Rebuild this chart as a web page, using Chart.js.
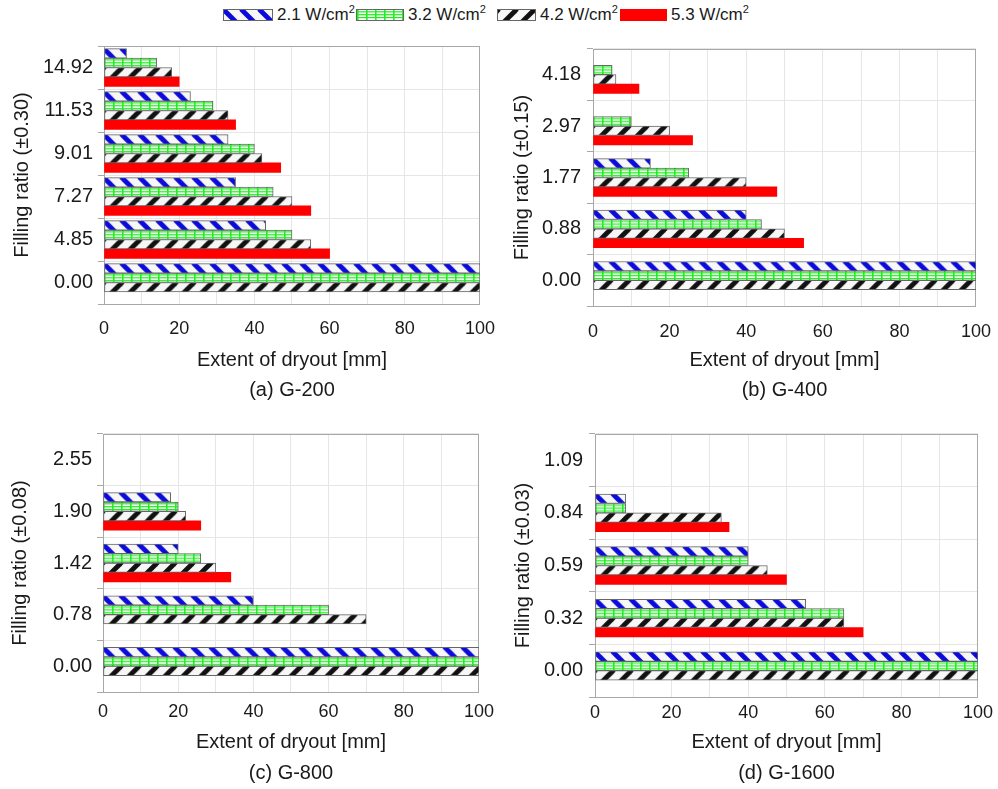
<!DOCTYPE html>
<html>
<head>
<meta charset="utf-8">
<script src="https://cdn.jsdelivr.net/npm/chart.js@4.4.1/dist/chart.umd.min.js"></script>
<style>
body { margin: 0; background: #fff; font-family: 'Liberation Sans', Arial, sans-serif; color: #1a1a1a; }
#wrap { position: relative; width: 998px; height: 789px; overflow: hidden; }
canvas.panel { position: absolute; }
.leg { position: absolute; top: 7px; height: 16px; display: flex; align-items: center; font-size: 17px; white-space: nowrap; }
.leg canvas { border: 1px solid #666; margin-right: 4px; }
.leg sup { font-size: 11px; vertical-align: 7px; line-height: 0; }
</style>
</head>
<body>
<div id="wrap">
  <div class="leg" style="left:223px"><canvas id="sw0" width="48" height="10"></canvas><span>2.1 W/cm<sup>2</sup></span></div>
  <div class="leg" style="left:356px"><canvas id="sw1" width="46" height="10"></canvas><span>3.2 W/cm<sup>2</sup></span></div>
  <div class="leg" style="left:497px"><canvas id="sw2" width="37" height="10"></canvas><span>4.2 W/cm<sup>2</sup></span></div>
  <div class="leg" style="left:620px"><canvas id="sw3" width="45" height="10" style="border-color:#ff0000"></canvas><span>5.3 W/cm<sup>2</sup></span></div>
  <canvas class="panel" id="pa" width="495" height="410" style="left:0;top:0"></canvas>
  <canvas class="panel" id="pb" width="496" height="410" style="left:495px;top:0"></canvas>
  <canvas class="panel" id="pc" width="494" height="389" style="left:0;top:400px"></canvas>
  <canvas class="panel" id="pd" width="498" height="389" style="left:495px;top:400px"></canvas>
</div>
<script>
// heat flux series
const seriesNames = ['2.1 W/cm²', '3.2 W/cm²', '4.2 W/cm²', '5.3 W/cm²'];

// (a) G-200
const fillG200 = ['0.00', '4.85', '7.27', '9.01', '11.53', '14.92'];
const g200q21 = [100, 43, 35, 33, 23, 6];
const g200q32 = [100, 50, 45, 40, 29, 14];
const g200q42 = [100, 55, 50, 42, 33, 18];
const g200q53 = [null, 60, 55, 47, 35, 20];

// (b) G-400
const fillG400 = ['0.00', '0.88', '1.77', '2.97', '4.18'];
const g400q21 = [100, 40, 15, null, null];
const g400q32 = [100, 44, 25, 10, 5];
const g400q42 = [100, 50, 40, 20, 6];
const g400q53 = [null, 55, 48, 26, 12];

// (c) G-800
const fillG800 = ['0.00', '0.78', '1.42', '1.90', '2.55'];
const g800q21 = [100, 40, 20, 18, null];
const g800q32 = [100, 60, 26, 20, null];
const g800q42 = [100, 70, 30, 22, null];
const g800q53 = [null, null, 34, 26, null];

// (d) G-1600
const fillG1600 = ['0.00', '0.32', '0.59', '0.84', '1.09'];
const g1600q21 = [100, 55, 40, 8, null];
const g1600q32 = [100, 65, 40, 8, null];
const g1600q42 = [100, 65, 45, 33, null];
const g1600q53 = [null, 70, 50, 35, null];

const FONT = "'Liberation Sans', Arial, sans-serif";
const TEXT = '#1a1a1a';
const BAR = 9.4;

function stripeTile(color, slash) {
    const c = document.createElement('canvas');
    c.width = 18; c.height = 18;
    const g = c.getContext('2d');
    g.fillStyle = '#f7f7f7';
    g.fillRect(0, 0, 18, 18);
    g.strokeStyle = color;
    g.lineWidth = 4.8;
    for (const o of [-18, 0, 18]) {
        g.beginPath();
        if (slash) { g.moveTo(o - 1, 19); g.lineTo(o + 19, -1); }
        else { g.moveTo(o - 1, -1); g.lineTo(o + 19, 19); }
        g.stroke();
    }
    return c;
}

function gridTile() {
    const c = document.createElement('canvas');
    c.width = 9; c.height = 12;
    const g = c.getContext('2d');
    g.fillStyle = '#fcfffc';
    g.fillRect(0, 0, 9, 12);
    g.fillStyle = '#1ef01e';
    g.fillRect(0, 0, 1.6, 12);
    g.fillRect(0, 1.2, 9, 1.2);
    g.fillRect(0, 4.1, 9, 1.2);
    g.fillRect(0, 7.0, 9, 1.2);
    return c;
}

const tiles = [stripeTile('#0b0bdc', false), gridTile(), stripeTile('#111', true), null];

// pattern anchored on each bar so the grid lines sit inside the bar
function barFill(i) {
    if (i === 3) return '#ff0000';
    return ctx => {
        const chart = ctx.chart;
        const ys = chart.scales.y;
        if (ctx.type !== 'data' || !chart.chartArea || !ys) return '#fff';
        const top = ys.getPixelForValue(ctx.dataIndex) - 2 * BAR + i * BAR;
        const p = chart.ctx.createPattern(tiles[i], 'repeat');
        p.setTransform(new DOMMatrix([1, 0, 0, 1, chart.chartArea.left, top]));
        return p;
    };
}

// legend swatches
for (let i = 0; i < 4; i++) {
    const c = document.getElementById('sw' + i);
    const g = c.getContext('2d');
    g.fillStyle = tiles[i] ? g.createPattern(tiles[i], 'repeat') : '#ff0000';
    g.fillRect(0, 0, c.width, c.height);
}

const frame = {
    id: 'frame',
    beforeDatasetsDraw(chart) {
        const { left, top, right, bottom } = chart.chartArea;
        const c = chart.ctx;
        c.save();
        c.strokeStyle = '#a8a8a8';
        c.lineWidth = 1;
        c.strokeRect(left + 0.5, top + 0.5, right - left - 1, bottom - top);
        c.restore();
    }
};

function makePanel(id, labels, series, caption, yTitle, L) {
    new Chart(document.getElementById(id), {
        type: 'bar',
        data: {
            labels: labels,
            datasets: series.map((d, i) => ({
                label: seriesNames[i],
                data: d,
                backgroundColor: barFill(i),
                borderColor: i === 3 ? 'rgba(0,0,0,0)' : '#666',
                borderWidth: i === 3 ? 0 : 1,
                borderSkipped: false,
                barThickness: BAR
            }))
        },
        options: {
            indexAxis: 'y',
            responsive: false,
            animation: false,
            events: [],
            layout: { padding: { left: 0, top: L.top, right: 0, bottom: 0 } },
            plugins: { legend: { display: false }, tooltip: { enabled: false } },
            scales: {
                x: {
                    min: 0, max: 100,
                    ticks: {
                        stepSize: 10, autoSkip: false, maxRotation: 0,
                        padding: 0, color: TEXT,
                        font: { family: FONT, size: 18, lineHeight: 1.2 },
                        callback: v => (v % 20 === 0 ? String(v) : '')
                    },
                    // invisible tick marks push the labels down without widening the right margin
                    grid: { color: '#e6e6e6', drawTicks: true, tickLength: L.xPad, tickColor: 'rgba(0,0,0,0)' },
                    border: { color: '#a8a8a8' },
                    title: {
                        display: true, text: ['Extent of dryout [mm]', caption], color: TEXT,
                        font: { family: FONT, size: 20, lineHeight: L.tLH },
                        padding: { top: 0, bottom: L.tPB }
                    },
                    afterFit: s => { s.height = L.xH; }
                },
                y: {
                    reverse: true,
                    ticks: { padding: L.yPad, color: TEXT, font: { family: FONT, size: 20 } },
                    grid: { color: '#e6e6e6', tickLength: 6, tickColor: '#a8a8a8' },
                    border: { color: '#a8a8a8' },
                    title: {
                        display: true, text: yTitle, color: TEXT,
                        font: { family: FONT, size: 20, lineHeight: 1.2 },
                        padding: { top: L.yTP, bottom: 0 }
                    },
                    afterFit: s => { s.width = L.yW; }
                }
            }
        },
        plugins: [frame]
    });
}

makePanel('pa', fillG200, [g200q21, g200q32, g200q42, g200q53], '(a) G-200', 'Filling ratio (±0.30)',
    { top: 46, yW: 104, xH: 106, xPad: 14, tLH: 1.5, tPB: 5, yPad: 5, yTP: 10 });
makePanel('pb', fillG400, [g400q21, g400q32, g400q42, g400q53], '(b) G-400', 'Filling ratio (±0.15)',
    { top: 49, yW: 98, xH: 104, xPad: 15, tLH: 1.5, tPB: 5, yPad: 6, yTP: 15 });
makePanel('pc', fillG800, [g800q21, g800q32, g800q42, g800q53], '(c) G-800', 'Filling ratio (±0.08)',
    { top: 34, yW: 103, xH: 97, xPad: 9, tLH: 1.55, tPB: 0, yPad: 5, yTP: 8 });
makePanel('pd', fillG1600, [g1600q21, g1600q32, g1600q42, g1600q53], '(d) G-1600', 'Filling ratio (±0.03)',
    { top: 34, yW: 100, xH: 92, xPad: 5, tLH: 1.55, tPB: 0, yPad: 6, yTP: 16 });
</script>
</body>
</html>
